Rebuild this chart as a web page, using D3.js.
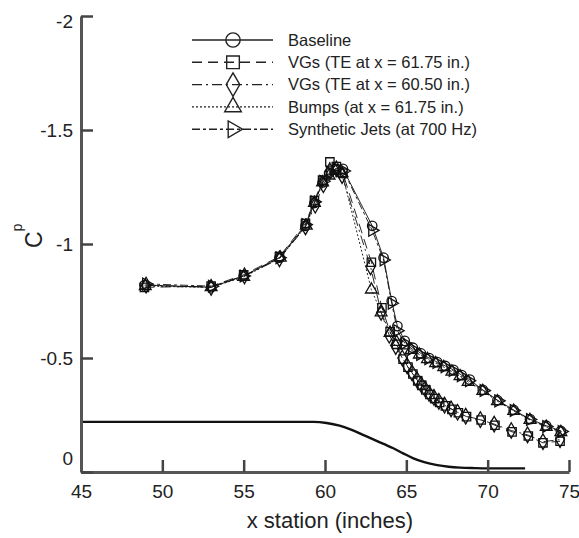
<!DOCTYPE html>
<html>
<head>
<meta charset="utf-8">
<script src="https://cdn.jsdelivr.net/npm/d3@7"></script>
<style>
  body { margin: 0; background: #fff; }
  text { font-family: Arial, "Liberation Sans", sans-serif; fill: #222; }
</style>
</head>
<body>
<div id="chart"></div>
<script>
// data
var xTicks = [45, 50, 55, 60, 65, 70, 75];
var yTicks = [-2, -1.5, -1, -0.5, 0];

var baselineX = [48.9, 53.0, 55.0, 57.2, 58.8, 59.35, 59.85, 60.25, 60.65, 61.1, 62.9, 63.6, 64.1, 64.45, 64.9, 65.4, 65.9, 66.4, 66.9, 67.4, 67.9, 68.4, 68.9, 69.7, 70.6, 71.6, 72.6, 73.6, 74.5];
var baselineCp = [-0.82, -0.81, -0.86, -0.94, -1.08, -1.18, -1.27, -1.31, -1.33, -1.33, -1.08, -0.94, -0.75, -0.64, -0.575, -0.545, -0.52, -0.5, -0.482, -0.465, -0.448, -0.425, -0.405, -0.36, -0.315, -0.272, -0.232, -0.203, -0.18];

var vg1X = [48.9, 53.0, 55.0, 57.2, 58.8, 59.35, 59.85, 60.3, 60.7, 61.1, 62.85, 63.5, 64.0, 64.4, 64.8, 65.1, 65.4, 65.7, 65.95, 66.2, 66.45, 66.75, 67.05, 67.4, 67.8, 68.2, 68.7, 69.6, 70.45, 71.5, 72.5, 73.4, 74.45];
var vg1Cp = [-0.81, -0.815, -0.865, -0.945, -1.09, -1.19, -1.28, -1.36, -1.34, -1.31, -0.92, -0.72, -0.615, -0.56, -0.495, -0.46, -0.43, -0.4, -0.38, -0.36, -0.34, -0.322, -0.305, -0.29, -0.275, -0.26, -0.243, -0.228, -0.205, -0.176, -0.158, -0.128, -0.135];

var vg2X = [49.0, 53.0, 55.05, 57.2, 58.8, 59.4, 59.9, 60.3, 60.7, 61.05, 62.8, 63.45, 63.95, 64.35, 64.75, 65.05, 65.35, 65.65, 65.9, 66.15, 66.4, 66.7, 67.0, 67.35, 67.75, 68.15, 68.65, 69.55, 70.4, 71.45, 72.45, 73.4, 74.45];
var vg2Cp = [-0.82, -0.81, -0.86, -0.935, -1.075, -1.17, -1.26, -1.32, -1.33, -1.3, -0.9, -0.7, -0.6, -0.55, -0.5, -0.465, -0.435, -0.405, -0.385, -0.365, -0.345, -0.327, -0.31, -0.293, -0.277, -0.262, -0.245, -0.23, -0.21, -0.182, -0.163, -0.133, -0.142];

var bumpsX = [48.95, 53.0, 55.0, 57.25, 58.85, 59.35, 59.85, 60.25, 60.65, 61.05, 62.85, 63.45, 64.0, 64.4, 64.85, 65.3, 65.8, 66.3, 66.8, 67.3, 67.8, 68.3, 68.8, 69.7, 70.6, 71.6, 72.6, 73.6, 74.5];
var bumpsCp = [-0.815, -0.81, -0.855, -0.94, -1.08, -1.18, -1.27, -1.3, -1.32, -1.31, -0.8, -0.7, -0.61, -0.57, -0.555, -0.535, -0.515, -0.495, -0.477, -0.46, -0.44, -0.42, -0.395, -0.355, -0.31, -0.268, -0.228, -0.198, -0.175];

var jetsX = [49.0, 53.05, 55.0, 57.2, 58.8, 59.35, 59.9, 60.3, 60.7, 61.15, 62.9, 63.6, 64.1, 64.45, 64.9, 65.35, 65.85, 66.35, 66.85, 67.35, 67.85, 68.35, 68.85, 69.75, 70.65, 71.6, 72.6, 73.6, 74.55];
var jetsCp = [-0.825, -0.815, -0.86, -0.94, -1.085, -1.185, -1.275, -1.315, -1.33, -1.32, -1.06, -0.93, -0.74, -0.62, -0.565, -0.54, -0.515, -0.497, -0.48, -0.462, -0.445, -0.422, -0.4, -0.357, -0.312, -0.27, -0.23, -0.2, -0.178];

// ramp geometry outline drawn under the data
var rampX = [45, 59.3, 60.1, 60.9, 61.6, 62.3, 63.0, 63.6, 64.2, 64.8, 65.4, 66.1, 66.9, 67.6, 68.3, 69.2, 70.1, 72.3];
var rampY = [-0.22, -0.22, -0.215, -0.203, -0.186, -0.164, -0.142, -0.123, -0.104, -0.082, -0.061, -0.043, -0.03, -0.023, -0.019, -0.017, -0.016, -0.016];

var seriesNames = ['Baseline', 'VGs (TE at x = 61.75 in.)', 'VGs (TE at x = 60.50 in.)', 'Bumps (at x = 61.75 in.)', 'Synthetic Jets (at 700 Hz)'];

var width = 579, height = 538;
var margin = { top: 16, right: 10, bottom: 66, left: 81 };

var svg = d3.select('#chart').append('svg')
    .attr('width', width)
    .attr('height', height);

var x = d3.scaleLinear().domain([45, 75]).range([margin.left, 569]);
var y = d3.scaleLinear().domain([-2, 0]).range([margin.top, height - margin.bottom]);

function zip(xs, ys){
    return xs.map(function(d, i){ return { x: d, y: ys[i] }; });
}

var series = [
    { name: seriesNames[0], data: zip(baselineX, baselineCp), sym: d3.symbolCircle, rot: 0, dash: null },
    { name: seriesNames[1], data: zip(vg1X, vg1Cp), sym: d3.symbolSquare, rot: 0, dash: '10,6' },
    { name: seriesNames[2], data: zip(vg2X, vg2Cp), sym: d3.symbolDiamond, rot: 0, dash: '10,4,2,4' },
    { name: seriesNames[3], data: zip(bumpsX, bumpsCp), sym: d3.symbolTriangle, rot: 0, dash: '2,2' },
    { name: seriesNames[4], data: zip(jetsX, jetsCp), sym: d3.symbolTriangle, rot: 90, dash: '8,3,3,3' }
];

// ramp
var rampLine = d3.line()
    .x(function(d){ return x(d.x); })
    .y(function(d){ return y(d.y); })
    .curve(d3.curveMonotoneX);

svg.append('path')
    .datum(zip(rampX, rampY))
    .attr('d', rampLine)
    .attr('fill', 'none')
    .attr('stroke', '#111')
    .attr('stroke-width', 2.4);

// axes (plain hyphen minus like the original)
var xAxis = d3.axisBottom(x).tickValues(xTicks).tickSize(-12).tickSizeOuter(0).tickPadding(13);
var yAxis = d3.axisLeft(y).tickValues(yTicks).tickSize(-12).tickSizeOuter(0).tickPadding(8)
    .tickFormat(function(d){ return String(d); });

var gx = svg.append('g')
    .attr('transform', 'translate(0,' + (height - margin.bottom) + ')')
    .call(xAxis);
var gy = svg.append('g')
    .attr('transform', 'translate(' + margin.left + ',0)')
    .call(yAxis);

[gx, gy].forEach(function(g){
    g.select('.domain').attr('stroke', '#555').attr('stroke-width', 3);
    g.selectAll('.tick line').attr('stroke', '#444').attr('stroke-width', 2.5);
    g.selectAll('.tick text').attr('font-size', 19).attr('fill', '#222')
        .style('font-family', 'Arial, "Liberation Sans", sans-serif');
});
// the zero and top labels sit a bit off their ticks in the original
gy.selectAll('.tick text').filter(function(d){ return d === 0; }).attr('dy', '-0.4em');
gy.selectAll('.tick text').filter(function(d){ return d === -2; }).attr('dy', '0.6em');

svg.append('text')
    .attr('x', x(60.3))
    .attr('y', 528)
    .attr('text-anchor', 'middle')
    .attr('font-size', 22)
    .text('x station (inches)');

// the p sits up beside the C in the original label
var ylab = svg.append('text')
    .attr('transform', 'translate(42,248) rotate(-90)')
    .attr('font-size', 23);
ylab.append('tspan').text('C');
ylab.append('tspan').attr('font-size', 14).attr('dy', -20).text('p');

// data lines and markers
var line = d3.line()
    .x(function(d){ return x(d.x); })
    .y(function(d){ return y(d.y); });

var sg = svg.selectAll('.series')
    .data(series)
    .enter().append('g')
    .attr('class', 'series');

sg.append('path')
    .attr('d', function(d){ return line(d.data); })
    .attr('fill', 'none')
    .attr('stroke', '#111')
    .attr('stroke-width', 0.9)
    .attr('stroke-dasharray', function(d){ return d.dash; });

sg.each(function(s){
    d3.select(this).selectAll('.pt')
        .data(s.data)
        .enter().append('path')
        .attr('class', 'pt')
        .attr('d', d3.symbol().type(s.sym).size(s.sym === d3.symbolTriangle ? 60 : 70))
        .attr('transform', function(d){ return 'translate(' + x(d.x) + ',' + y(d.y) + ') rotate(' + s.rot + ')'; })
        .attr('fill', 'none')
        .attr('stroke', '#111')
        .attr('stroke-width', 1.3);
});

// legend
var legend = svg.append('g').attr('class', 'legend');
var lg = legend.selectAll('g')
    .data(series)
    .enter().append('g')
    .attr('transform', function(d, i){ return 'translate(0,' + (40 + i * 22.3) + ')'; });

lg.append('line')
    .attr('x1', 192).attr('x2', 273)
    .attr('stroke', '#222')
    .attr('stroke-width', 1.4)
    .attr('stroke-dasharray', function(d){ return d.dash; });

lg.append('path')
    .attr('d', function(d){ return d3.symbol().type(d.sym).size(d.sym === d3.symbolTriangle ? 120 : 160)(); })
    .attr('transform', function(d){ return 'translate(233,0) rotate(' + d.rot + ')'; })
    .attr('fill', 'none')
    .attr('stroke', '#222')
    .attr('stroke-width', 1.4);

lg.append('text')
    .attr('x', 288)
    .attr('dy', '0.35em')
    .attr('font-size', 16.5)
    .text(function(d){ return d.name; });
</script>
</body>
</html>
